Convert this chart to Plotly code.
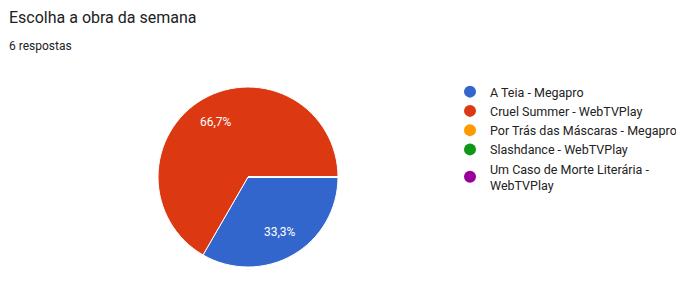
import math
import plotly.graph_objects as go

categories = ["A Teia - Megapro", "Cruel Summer - WebTVPlay", "Por Trás das Máscaras - Megapro",
              "Slashdance - WebTVPlay", "Um Caso de Morte Literária - WebTVPlay"]
legend_labels = ["A Teia - Megapro", "Cruel Summer - WebTVPlay", "Por Trás das Máscaras - Megapro",
                 "Slashdance - WebTVPlay", "Um Caso de Morte Literária -<br>WebTVPlay"]
votes = [2, 4, 0, 0, 0]
colors = ["#3366cc", "#dc3912", "#ff9900", "#109618", "#990099"]

W, H = 676, 285
PX0, PX1, PY0, PY1 = 158, 338, 18, 198  # pie box (x from left, y from bottom)
ROT = 90

fig = go.Figure()
fig.add_trace(go.Pie(
    labels=categories, values=votes, sort=False, direction="clockwise", rotation=ROT,
    marker=dict(colors=colors, line=dict(color="white", width=1)),
    textinfo="none", showlegend=False, hoverinfo="label+percent",
    domain=dict(x=[PX0 / W, PX1 / W], y=[PY0 / H, PY1 / H]),
))
for lab, col in zip(legend_labels, colors):
    fig.add_trace(go.Scatter(x=[None], y=[None], mode="markers", name=lab,
                             marker=dict(symbol="circle", size=13, color=col)))

# percentage labels placed along each slice's mid-angle, derived from the data
total = sum(votes)
cx, cy = (PX0 + PX1) / 2, (PY0 + PY1) / 2
R = (PX1 - PX0) / 2
annotations = []
acc = 0
for v in votes:
    if v > 0:
        mid = ROT + 360 * (acc + v / 2) / total  # degrees clockwise from 12 o'clock
        r = 0.71 * R
        x = cx + r * math.sin(math.radians(mid))
        y = cy + r * math.cos(math.radians(mid))
        txt = f"{100 * v / total:.1f}%".replace(".", ",")
        annotations.append(dict(text=txt, x=x / W, y=y / H, xref="paper", yref="paper",
                                showarrow=False, xanchor="center", yanchor="middle",
                                font=dict(family="Roboto, Arial", size=12, color="white")))
    acc += v

annotations += [
    dict(text="Escolha a obra da semana", x=7 / W, y=1 - 6 / H, xref="paper", yref="paper",
         xanchor="left", yanchor="top", showarrow=False,
         font=dict(family="Roboto, Arial", size=16, color="#202124")),
    dict(text="6 respostas", x=7 / W, y=1 - 37 / H, xref="paper", yref="paper",
         xanchor="left", yanchor="top", showarrow=False,
         font=dict(family="Roboto, Arial", size=12, color="#202124")),
]

fig.update_layout(
    width=W, height=H, margin=dict(l=0, r=0, t=0, b=0, autoexpand=False),
    paper_bgcolor="white", plot_bgcolor="white",
    xaxis=dict(visible=False), yaxis=dict(visible=False),
    legend=dict(x=450 / W, y=1 - 77 / H, xanchor="left", yanchor="top",
                xref="container", yref="container",
                font=dict(family="Roboto, Arial", size=12.5, color="#222222"),
                itemsizing="constant", bgcolor="rgba(0,0,0,0)"),
    annotations=annotations,
)
fig.write_html("out.html")
